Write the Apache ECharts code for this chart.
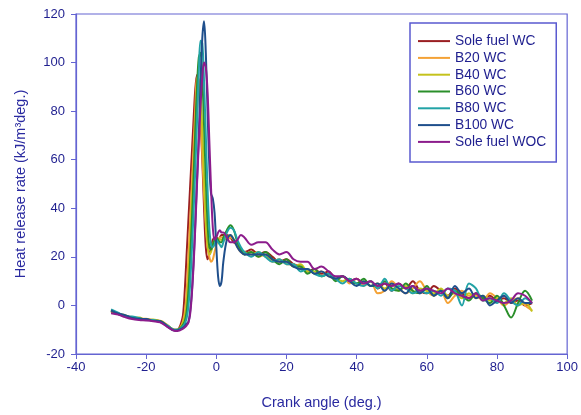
<!DOCTYPE html>
<html>
<head>
<meta charset="utf-8">
<script src="https://cdn.jsdelivr.net/npm/echarts@6/dist/echarts.min.js"></script>
<style>
html,body{margin:0;padding:0;background:#fff;}
#chart{width:581px;height:415px;}
</style>
</head>
<body>
<div id="chart"></div>
<script>
// Crank angle (deg.) sample positions
const crankAngle = [-30,-28,-26,-24,-22,-20,-18,-16,-14,-12,
  -11,-10.5,-10,-9.5,-9,-8.5,-8,-7.5,-7,-6.5,-6,-5.5,-5,-4.5,-4,-3.5,-3,-2.5,-2,-1.5,-1,-0.5,0,0.5,1,1.5,2,
  3,4,5,6,7,8,
  10,12,14,16,18,20,22,24,26,28,30,32,34,36,38,40,42,44,46,48,50,52,54,56,58,60,62,64,66,68,70,72,74,76,78,80,82,84,86,88,90];

const seriesNames = ['Sole fuel WC','B20 WC','B40 WC','B60 WC','B80 WC','B100 WC','Sole fuel WOC'];

const soleFuelWC = [-2.5,-3.5,-4.2,-5,-5.3,-5.8,-6,-6.5,-8.2,-10,
  -10,-9,-7,-4,6,20,34,48,62,76,89,95,90,76,60,40,24,19,21,24,27,28,28,27,28,29,29,
  29,28,26,25,23,22,
  23,21,22,20,18,19,17,16,14,15,13,14,11,12,10,11,9,10,7,9,6,9,7,10,6,5,8,6,4,7,5,3,5,3,4,2,3,1,2,0,1];

const b20WC = [-2.3,-3.2,-4.5,-4.8,-5.5,-5.5,-6.2,-6.3,-8,-10.2,
  -10,-9.5,-8.5,-6.5,-3,5,19,34,49,65,81,94,93,80,62,46,33,24,20,18,19,22,25,27,28,28,28,
  27,28,27,24,22,21,
  22,20,21,18,19,17,17,15,15,13,14,12,11,12,9,11,8,10,5,6,10,7,5,7,10,6,4,6,1,4,6,4,4,2,5,3,0,2,3,0,-2];

const b40WC = [-2.2,-3.4,-4,-5.2,-5,-6,-5.8,-6.6,-8.3,-9.9,
  -10,-9.5,-8.5,-7,-5,0,10,24,39,54,69,84,91,87,72,53,35,25,21,22,25,27,28,27,27,27,27,
  28,29,27,25,23,22,
  21,22,20,19,18,18,16,17,14,14,12,13,11,10,11,9,10,8,9,7,9,6,8,5,7,6,5,7,4,5,3,5,3,4,2,3,1,3,0,1,-2.5];

const b60WC = [-2,-3.6,-4.3,-5,-5.6,-5.7,-6.3,-6.4,-8.5,-10.1,
  -10,-9.5,-9,-8,-6.5,-3,5,18,34,52,72,90,102,104,94,74,52,34,24,23,25,27,28,27,26,26,28,
  31,33,31,26,23,21,
  22,20,22,19,17,19,16,16,13,15,12,13,10,12,10,9,11,8,8,10,7,6,9,6,5,8,4,6,3,6,4,2,5,3,1,4,0,-5,1,6,2];

const b80WC = [-1.6,-3,-4.4,-4.6,-5.2,-6,-6,-6.8,-8.2,-10,
  -10,-9.8,-9.3,-8.5,-7.5,-5.5,-1,8,22,38,56,76,96,109,108,92,70,48,32,25,24,25,27,26,25,24,26,
  30,32,31,27,24,22,
  20,22,20,18,19,17,17,14,15,13,12,13,11,9,11,9,8,10,7,11,6,8,7,5,6,5,6,4,7,6,0,9,7,2,3,1,5,2,0,3,1];

const b100WC = [-2,-3.3,-4,-5.2,-5.5,-5.6,-6.4,-6.5,-8.6,-10.3,
  -10.2,-10,-9.7,-9.2,-8.5,-7.5,-7,-3,5,18,34,52,70,92,110,117,104,80,58,46,44,38,24,12,8,10,18,
  27,29,27,24,22,21,
  21,21,21,19,18,18,16,15,15,13,14,12,11,12,10,8,10,8,9,6,9,7,5,8,5,7,4,6,3,8,5,7,3,4,0,2,4,1,3,1,1];

const soleFuelWOC = [-3.2,-3.8,-4.8,-5.6,-6,-6.2,-6.5,-7,-8.8,-10.4,
  -10.5,-10.3,-10,-9.6,-9,-8.3,-7.2,-4,4,16,32,50,67,82,94,100,98,88,68,48,32,27,28,30,31,30,30,
  28,26,26,27,29,28,
  25,26,26,23,21,22,19,18,18,15,16,14,12,12,10,11,9,10,8,9,8,9,7,8,6,7,6,5,7,5,4,3,5,2,3,2,1,2,5,4,1];

const seriesValues = [soleFuelWC, b20WC, b40WC, b60WC, b80WC, b100WC, soleFuelWOC];
const seriesColors = ['#9a1f22','#f4a236','#c4c21c','#2a8f2a','#22a3a6','#1f4f8c','#8c1c8c'];

const xTicks = {min:-40, max:100, interval:20};
const yTicks = {min:-20, max:120, interval:20};

const axisBlue = '#6464d2';
const textBlue = '#1f1f8f';
const font = 'Liberation Sans, Arial, sans-serif';

const chart = echarts.init(document.getElementById('chart'), null, {renderer:'canvas'});
chart.setOption({
  backgroundColor:'#fff',
  animation:false,
  grid:{left:76,right:12,top:14,bottom:59,show:true,borderColor:axisBlue,borderWidth:1.2},
  legend:{
    orient:'vertical', left:410, top:23,
    padding:[11,10,13,8],
    itemGap:2.6, itemWidth:32, itemHeight:2,
    icon:'rect',
    borderColor:'#5a5ad0', borderWidth:1.5, backgroundColor:'#fff',
    textStyle:{color:textBlue,fontSize:13.8,fontFamily:font,lineHeight:14.2},
    data:seriesNames
  },
  xAxis:{
    type:'value', min:xTicks.min, max:xTicks.max, interval:xTicks.interval,
    name:'Crank angle (deg.)', nameLocation:'middle', nameGap:41,
    nameTextStyle:{color:'#2a2aa0',fontSize:14.5,fontFamily:font},
    axisLine:{onZero:false,lineStyle:{color:axisBlue,width:1.2}},
    axisTick:{length:5,lineStyle:{color:axisBlue}},
    axisLabel:{color:textBlue,fontSize:13,fontFamily:font,margin:7},
    splitLine:{show:false}
  },
  yAxis:{
    type:'value', min:yTicks.min, max:yTicks.max, interval:yTicks.interval,
    name:'Heat release rate (kJ/m³deg.)', nameLocation:'middle', nameGap:48,
    nameTextStyle:{color:'#2a2aa0',fontSize:14.5,fontFamily:font},
    axisLine:{onZero:false,lineStyle:{color:axisBlue,width:1.2}},
    axisTick:{length:5,lineStyle:{color:axisBlue}},
    axisLabel:{color:textBlue,fontSize:13,fontFamily:font,margin:11},
    splitLine:{show:false}
  },
  series:seriesNames.map((name,i)=>({
    name:name, type:'line', showSymbol:false, symbol:'none', smooth:0.35,
    color:seriesColors[i],
    lineStyle:{width:2,color:seriesColors[i]},
    data:crankAngle.map((x,j)=>[x,seriesValues[i][j]])
  }))
});
</script>
</body>
</html>
